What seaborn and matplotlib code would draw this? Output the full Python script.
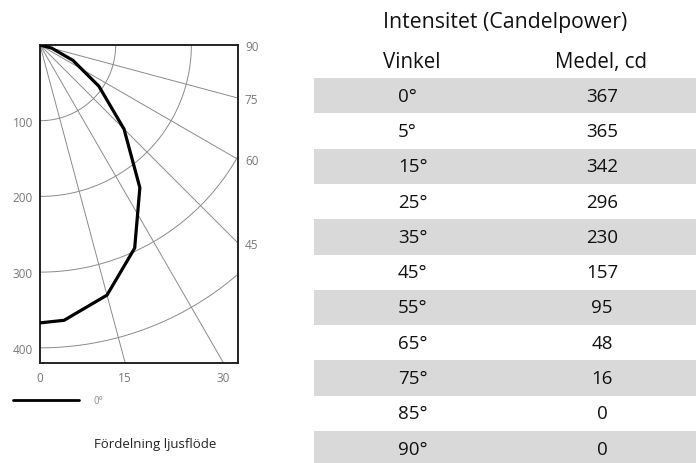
import numpy as np
import pandas as pd
import seaborn as sns
import matplotlib.pyplot as plt
from matplotlib.lines import Line2D

# data from the table
angles = [0, 5, 15, 25, 35, 45, 55, 65, 75, 85, 90]
candela = [367, 365, 342, 296, 230, 157, 95, 48, 16, 0, 0]
angle_labels = [f"{a}°" for a in angles]

grid_radii = [100, 200, 300, 400]
grid_angles = [15, 30, 45, 60, 75]
bottom_ticks = [0, 15, 30]
right_ticks = [45, 60, 75, 90]

sns.set_theme(style="white")
plt.rcParams['font.family'] = ['Open Sans', 'DejaVu Sans']

fig = plt.figure(figsize=(6.96, 4.64), dpi=100)

# ---- polar diagram (quarter, origin top left) ----
ax = fig.add_axes([40/696, 1 - 364/464, 198/696, 318/464])
xmax, ymax = 261.6, 420.0
ax.set_xlim(0, xmax)
ax.set_ylim(ymax, 0)

grid_col = '#8a8a8a'
t = np.radians(np.linspace(0, 90, 200))
for r in grid_radii:
    ax.plot(r*np.sin(t), r*np.cos(t), color=grid_col, lw=0.7, zorder=1)
for a in grid_angles:
    th = np.radians(a)
    L = 1000
    ax.plot([0, L*np.sin(th)], [0, L*np.cos(th)], color=grid_col, lw=0.7, zorder=1)

df = pd.DataFrame({'angle': angles, 'cd': candela})
df['x'] = df.cd * np.sin(np.radians(df.angle))
df['y'] = df.cd * np.cos(np.radians(df.angle))
sns.lineplot(data=df, x='x', y='y', sort=False, estimator=None, color='black',
             lw=2.3, ax=ax, zorder=3)

for s in ax.spines.values():
    s.set_color('#222222')
    s.set_linewidth(1.4)

lab_col = '#777777'
ax.set_yticks(grid_radii)
ax.set_yticklabels([str(r) for r in grid_radii])
ax.set_xticks([ymax*np.tan(np.radians(a)) for a in bottom_ticks])
ax.set_xticklabels([str(a) for a in bottom_ticks])
ax.tick_params(length=0, labelsize=8.5, labelcolor=lab_col)
ax.tick_params(axis='y', pad=5)
ax.tick_params(axis='x', pad=6)
ax.set_xlabel('')
ax.set_ylabel('')

ax2 = ax.twinx()
ax2.set_ylim(ymax, 0)
ax2.set_yticks([xmax/np.tan(np.radians(a)) for a in right_ticks])
ax2.set_yticklabels([str(a) for a in right_ticks])
ax2.tick_params(length=0, labelsize=8.5, labelcolor=lab_col, pad=5)
for s in ax2.spines.values():
    s.set_visible(False)

handle = Line2D([], [], color='black', lw=2)
fig.legend([handle], ['0°'], loc='center left', bbox_to_anchor=(13/696, 1 - 402/464),
           frameon=False, borderpad=0, borderaxespad=0, handlelength=6.8,
           handletextpad=1.5, fontsize=7, labelcolor='#8a8a8a')

fig.text(155/696, 1 - 445/464, 'Fördelning ljusflöde', ha='center', va='center',
         fontsize=9.5, color='#222222')

# ---- table ----
tx = fig.add_axes([314/696, 0, 382/696, 1])
row_h = 35.3
top_px = 79
tx.set_xlim(314, 696)
tx.set_ylim((464 - top_px)/row_h - 0.5, -top_px/row_h - 0.5)
tx.axis('off')

for i in range(len(angles)):
    if i % 2 == 0:
        tx.axhspan(i - 0.5, i + 0.5, color='#d9d9d9', lw=0, zorder=0)
    tx.text(398, i, angle_labels[i], ha='left', va='center', fontsize=13.5, color='#111111')
    tx.text(602, i, str(candela[i]), ha='center', va='center', fontsize=13.5, color='#111111')

tx.text(383, -1 + 0.02, 'Vinkel', ha='left', va='center', fontsize=14.8, color='#111111')
tx.text(601, -1 + 0.02, 'Medel, cd', ha='center', va='center', fontsize=14.8, color='#111111')
tx.text(505, -2.1, 'Intensitet (Candelpower)', ha='center', va='center', fontsize=15.3,
        color='#111111')

fig.savefig('out.png', dpi=100)
